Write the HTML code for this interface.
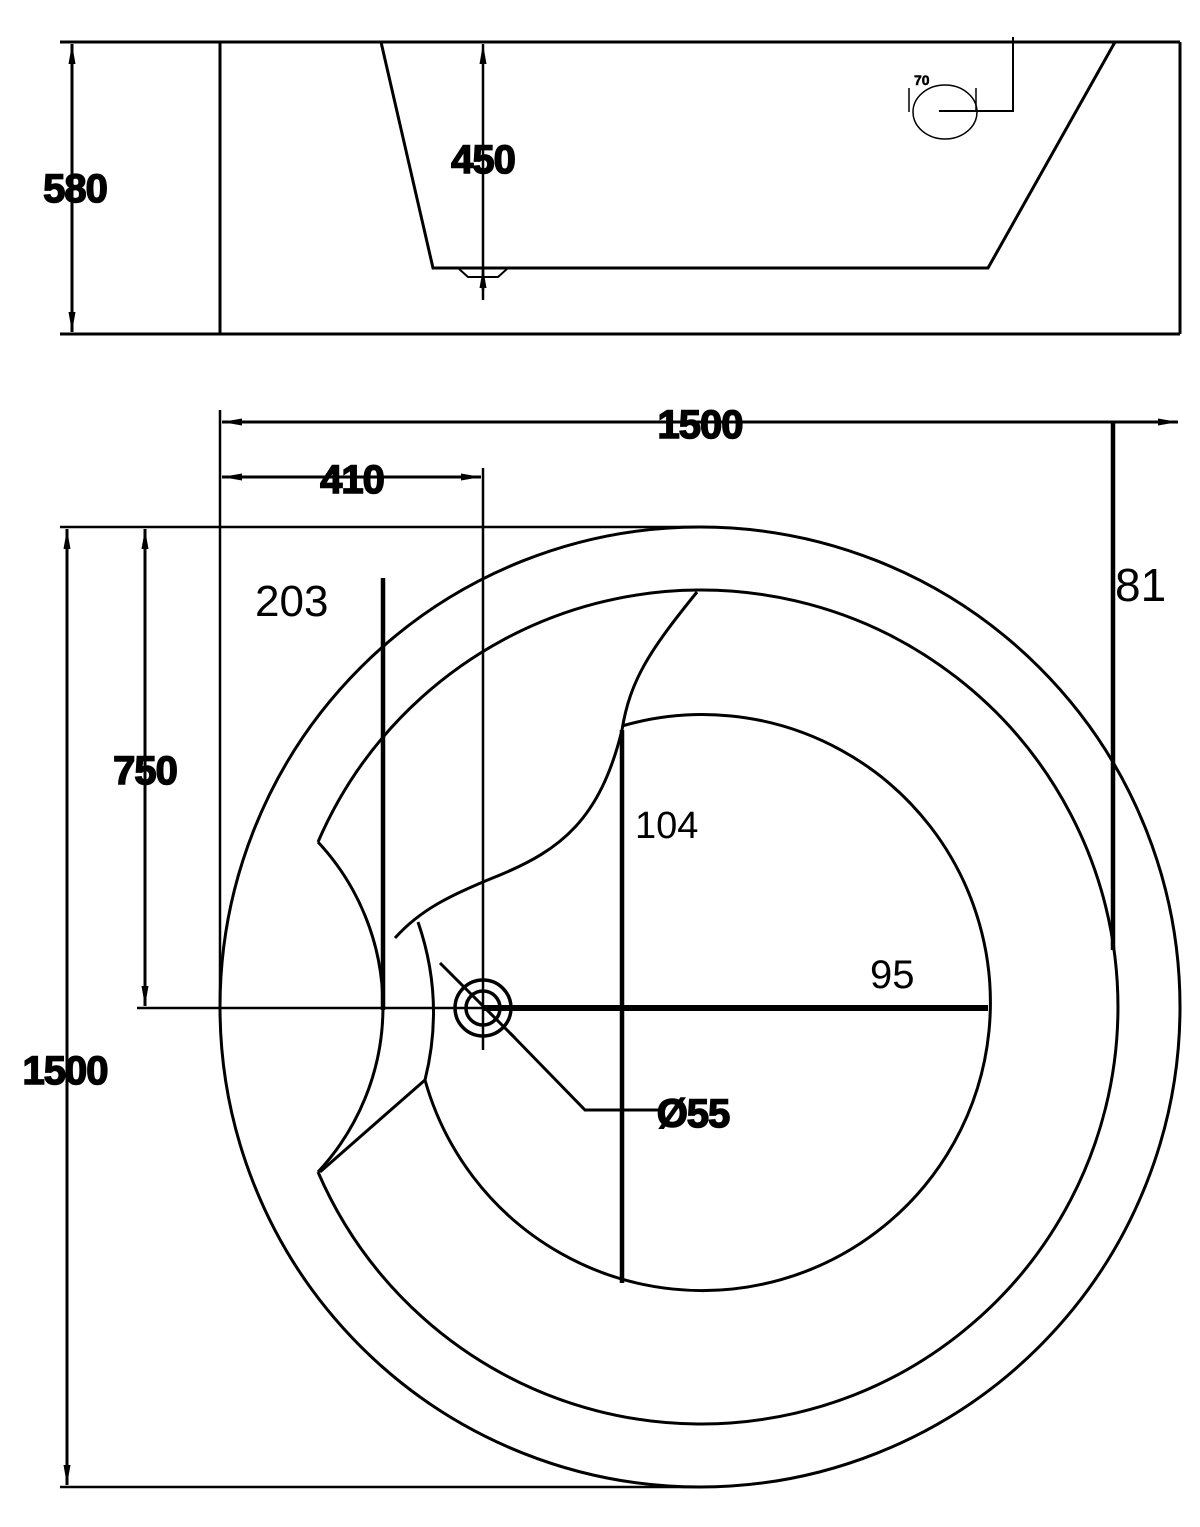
<!DOCTYPE html>
<html><head><style>body{margin:0;background:#fff}svg{display:block}</style></head><body>
<svg width="1200" height="1527" viewBox="0 0 1200 1527" xmlns="http://www.w3.org/2000/svg" font-family="Liberation Sans, sans-serif">
<defs>
<marker id="a" viewBox="0 0 20 8" refX="20" refY="4" markerWidth="20" markerHeight="8" orient="auto-start-reverse" markerUnits="userSpaceOnUse"><path d="M0,0.5 L20,4 L0,7.5 z" fill="#000"/></marker>
</defs>
<g fill="none" stroke="#000" stroke-width="3">
<line x1="60" y1="42" x2="1180" y2="42"/>
<line x1="60" y1="334" x2="1180" y2="334"/>
<line x1="1180" y1="42" x2="1180" y2="334"/>
<line x1="220" y1="42" x2="220" y2="334"/>
<line x1="72" y1="44" x2="72" y2="332" stroke-width="3" marker-start="url(#a)" marker-end="url(#a)"/>
<polyline points="381,42 433,268 988,268 1115,42" stroke-width="3"/>
<polyline points="458,268 468,277 498,277 508,268" stroke-width="2"/>
<line x1="483" y1="44" x2="483" y2="300" stroke-width="2.5" marker-start="url(#a)"/>
<line x1="483" y1="290" x2="483" y2="268" stroke-width="2.5" marker-end="url(#a)"/>
<ellipse cx="945" cy="112" rx="32" ry="27" stroke-width="1.5"/>
<polyline points="939,111 1013,111 1013,37" stroke-width="2"/>
<line x1="909" y1="88" x2="909" y2="112" stroke-width="1.5"/>
<line x1="976" y1="88" x2="976" y2="112" stroke-width="1.5"/>
<line x1="222" y1="422" x2="1178" y2="422" stroke-width="3" marker-start="url(#a)" marker-end="url(#a)"/>
<line x1="220" y1="410" x2="220" y2="1008" stroke-width="2.5"/>
<line x1="222" y1="477" x2="481" y2="477" stroke-width="3" marker-start="url(#a)" marker-end="url(#a)"/>
<line x1="483" y1="468" x2="483" y2="1050" stroke-width="2.5"/>
<line x1="60" y1="527" x2="700" y2="527" stroke-width="2.5"/>
<line x1="60" y1="1487" x2="700" y2="1487" stroke-width="2.5"/>
<line x1="67" y1="529" x2="67" y2="1485" stroke-width="3" marker-start="url(#a)" marker-end="url(#a)"/>
<line x1="145" y1="529" x2="145" y2="1006" stroke-width="3" marker-start="url(#a)" marker-end="url(#a)"/>
<line x1="137" y1="1008" x2="483" y2="1008" stroke-width="2.5"/>
<circle cx="700" cy="1007" r="480" stroke-width="3"/>
<path d="M318,842 A417,417 0 1,1 318,1172" stroke-width="3"/>
<path d="M318,842 A242,242 0 0,1 318,1172" stroke-width="3"/>
<path d="M697,592 C650,650 630,680 622,730 C600,820 560,850 500,875 C450,895 420,910 395,938" stroke-width="3"/>
<path d="M622,726 A288,288 0 1,1 425,1080" stroke-width="3"/>
<path d="M418,922 Q445,1000 425,1080" stroke-width="3"/>
<line x1="425" y1="1080" x2="320" y2="1172" stroke-width="3"/>
<line x1="1113" y1="422" x2="1113" y2="950" stroke-width="4.5"/>
<line x1="383" y1="578" x2="383" y2="1010" stroke-width="4.5"/>
<line x1="622" y1="730" x2="622" y2="1283" stroke-width="4.5"/>
<line x1="483" y1="1008" x2="988" y2="1008" stroke-width="6"/>
<circle cx="483" cy="1008" r="28" stroke-width="3.5"/>
<circle cx="483" cy="1008" r="17" stroke-width="3.5"/>
<line x1="440" y1="963" x2="515" y2="1038" stroke-width="3"/>
<polyline points="510,1033 585,1110 660,1110" stroke-width="3"/>
</g>
<g font-weight="bold" font-size="40" text-anchor="middle" fill="#000" stroke="#000" stroke-width="1.5" letter-spacing="-1">
<text x="75" y="202">580</text>
<text x="483" y="173">450</text>
<text x="700" y="438">1500</text>
<text x="352" y="493">410</text>
<text x="145" y="784">750</text>
<text x="65" y="1084">1500</text>
<text x="693" y="1127">Ø55</text>
<text x="914" y="85" font-size="14" stroke-width="0.5" letter-spacing="0" text-anchor="start">70</text>
</g>
<g font-size="46" fill="#000">
<text x="1115" y="601">81</text>
<text x="255" y="616" font-size="44">203</text>
<text x="635" y="838" font-size="38">104</text>
<text x="870" y="988" font-size="40">95</text>
</g>
</svg>
</body></html>
